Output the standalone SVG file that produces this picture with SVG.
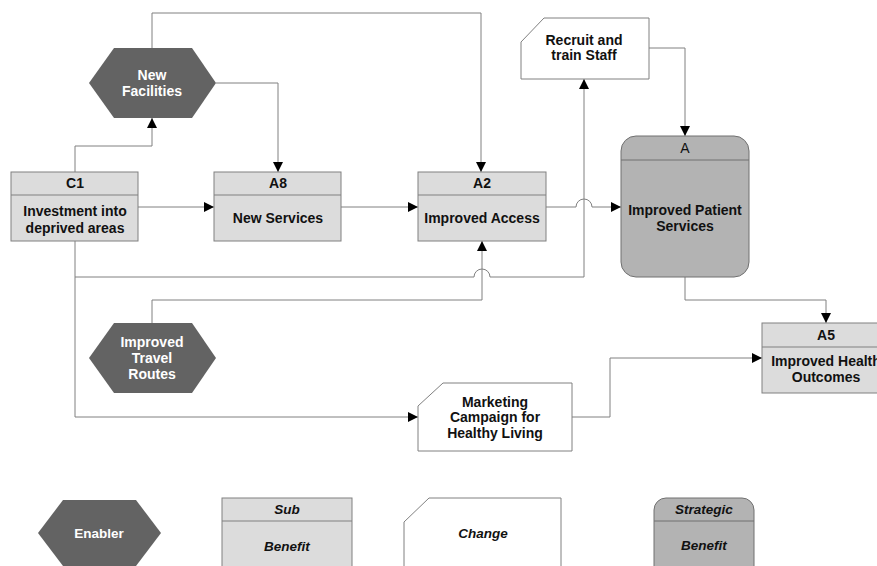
<svg xmlns="http://www.w3.org/2000/svg" width="877" height="566" viewBox="0 0 877 566">
  <defs>
    <marker id="arrow" viewBox="0 0 10 10" refX="10" refY="5" markerWidth="10" markerHeight="10" markerUnits="userSpaceOnUse" orient="auto">
      <path d="M0,0 L10,5 L0,10 Z" fill="#000"/>
    </marker>
    <style>
      .bg { fill: #ffffff; }
      .sub { fill: #dcdcdc; stroke: #808080; stroke-width: 1; }
      .strat { fill: #b3b3b3; stroke: #707070; stroke-width: 1; }
      .chg { fill: #ffffff; stroke: #808080; stroke-width: 1; }
      .enb { fill: #636363; stroke: none; }
      .div { stroke: #808080; stroke-width: 1; fill: none; }
      .conn { fill: none; stroke: #808080; stroke-width: 1; }
      .arr { marker-end: url(#arrow); }
      text { font-family: "Liberation Sans", Arial, sans-serif; font-size: 14px; font-weight: bold; text-anchor: middle; fill: #111; }
      .w { fill: #ffffff; }
      .n { font-weight: normal; }
      .leg { font-family: "Liberation Sans Narrow", "Liberation Sans", Arial, sans-serif; font-size: 13.5px; font-style: italic; }
      .legw { font-family: "Liberation Sans Narrow", "Liberation Sans", Arial, sans-serif; font-size: 13.5px; fill: #ffffff; }
    </style>
  </defs>

  <rect class="bg" x="0" y="0" width="877" height="566"/>

  <!-- connectors -->
  <g id="connectors">
    <!-- New Facilities top to A2 -->
    <path class="conn arr" d="M152,48 V13 H481 V172"/>
    <!-- New Facilities right to A8 -->
    <path class="conn arr" d="M216,83 H278 V172"/>
    <!-- C1 top to New Facilities -->
    <path class="conn arr" d="M75,172 V146 H152 V118"/>
    <!-- C1 to A8 -->
    <path class="conn arr" d="M138,207 H214"/>
    <!-- A8 to A2 -->
    <path class="conn arr" d="M341,207 H418"/>
    <!-- A2 to A, hopping over the staff line -->
    <path class="conn arr" d="M546,207 H576 A8,8 0 0 1 592,207 H621"/>
    <!-- C1 to Recruit and train Staff, hopping over the travel line -->
    <path class="conn arr" d="M75,241 V277 H474 A8,8 0 0 1 490,277 H584 V79"/>
    <!-- Improved Travel Routes to A2 -->
    <path class="conn arr" d="M152,323 V300 H482 V241"/>
    <!-- Recruit and train Staff to A -->
    <path class="conn arr" d="M649,48 H685 V136"/>
    <!-- A to A5 -->
    <path class="conn arr" d="M685,277 V300 H826 V323"/>
    <!-- C1 to Marketing -->
    <path class="conn arr" d="M75,277 V417 H418"/>
    <!-- Marketing to A5 -->
    <path class="conn arr" d="M572,417 H610 V358 H762"/>
  </g>

  <!-- New Facilities (enabler) -->
  <g id="new-facilities">
    <polygon class="enb" points="89,83 114,48 192,48 216,83 192,118 114,118"/>
    <text class="w" x="152" y="80">New</text>
    <text class="w" x="152" y="96">Facilities</text>
  </g>

  <!-- C1 -->
  <g id="c1">
    <rect class="sub" x="11" y="172" width="127" height="69"/>
    <line class="div" x1="11" y1="195" x2="138" y2="195"/>
    <text x="75" y="188">C1</text>
    <text x="75" y="216">Investment into</text>
    <text x="75" y="233">deprived areas</text>
  </g>

  <!-- A8 -->
  <g id="a8">
    <rect class="sub" x="214" y="172" width="127" height="69"/>
    <line class="div" x1="214" y1="195" x2="341" y2="195"/>
    <text x="278" y="188">A8</text>
    <text x="278" y="223">New Services</text>
  </g>

  <!-- A2 -->
  <g id="a2">
    <rect class="sub" x="418" y="172" width="128" height="69"/>
    <line class="div" x1="418" y1="195" x2="546" y2="195"/>
    <text x="482" y="188">A2</text>
    <text x="482" y="223">Improved Access</text>
  </g>

  <!-- Recruit and train Staff (change) -->
  <g id="recruit">
    <path class="chg" d="M544,18 H649 V79 H521 V42 Z"/>
    <text x="584" y="45">Recruit and</text>
    <text x="584" y="60">train Staff</text>
  </g>

  <!-- A (strategic benefit) -->
  <g id="a">
    <rect class="strat" x="621" y="136" width="128" height="141" rx="15" ry="15"/>
    <line class="div" x1="621" y1="160" x2="749" y2="160" style="stroke:#707070"/>
    <text class="n" x="685" y="153">A</text>
    <text x="685" y="215">Improved Patient</text>
    <text x="685" y="231">Services</text>
  </g>

  <!-- Improved Travel Routes (enabler) -->
  <g id="travel-routes">
    <polygon class="enb" points="89,358 114,323 192,323 216,358 192,393 114,393"/>
    <text class="w" x="152" y="347">Improved</text>
    <text class="w" x="152" y="363">Travel</text>
    <text class="w" x="152" y="379">Routes</text>
  </g>

  <!-- Marketing Campaign (change) -->
  <g id="marketing">
    <path class="chg" d="M443,383 H572 V451 H418 V406 Z"/>
    <text x="495" y="407">Marketing</text>
    <text x="495" y="422">Campaign for</text>
    <text x="495" y="438">Healthy Living</text>
  </g>

  <!-- A5 -->
  <g id="a5">
    <rect class="sub" x="762" y="323" width="127" height="70"/>
    <line class="div" x1="762" y1="347" x2="889" y2="347"/>
    <text x="826" y="340">A5</text>
    <text x="826" y="366">Improved Health</text>
    <text x="826" y="382">Outcomes</text>
  </g>

  <!-- legend -->
  <g id="legend-enabler">
    <polygon class="enb" points="38,533 63,500 136,500 161,533 136,566 63,566"/>
    <text class="legw" x="99" y="538">Enabler</text>
  </g>
  <g id="legend-sub">
    <rect class="sub" x="222" y="498" width="130" height="80"/>
    <line class="div" x1="222" y1="521" x2="352" y2="521"/>
    <text class="leg" x="287" y="514">Sub</text>
    <text class="leg" x="287" y="551">Benefit</text>
  </g>
  <g id="legend-change">
    <path class="chg" d="M429,498 H561 V580 H404 V522 Z"/>
    <text class="leg" x="483" y="538">Change</text>
  </g>
  <g id="legend-strategic">
    <rect class="strat" x="654" y="498" width="100" height="80" rx="12" ry="12"/>
    <line class="div" x1="654" y1="521" x2="754" y2="521" style="stroke:#707070"/>
    <text class="leg" x="704" y="514">Strategic</text>
    <text class="leg" x="704" y="550">Benefit</text>
  </g>
</svg>
